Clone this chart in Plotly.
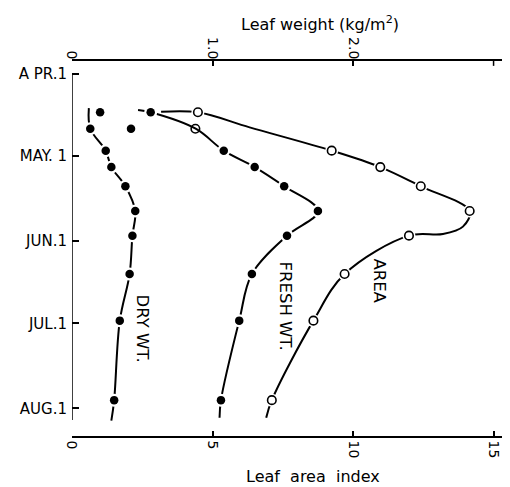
import plotly.graph_objects as go

# ---- data ----
sample_dates = ["2001-04-15", "2001-04-21", "2001-04-29", "2001-05-05", "2001-05-12",
                "2001-05-21", "2001-05-30", "2001-06-13", "2001-06-30", "2001-07-29"]
dry_wt = [0.20, 0.13, 0.24, 0.28, 0.38, 0.45, 0.43, 0.41, 0.34, 0.30]          # kg/m2
fresh_wt = [0.56, 0.42, 1.08, 1.30, 1.51, 1.75, 1.53, 1.28, 1.19, 1.06]        # kg/m2
leaf_area = [4.48, 4.39, 9.24, 10.97, 12.41, 14.15, 11.99, 9.70, 8.59, 7.11]   # LAI

# hand-drawn smooth curves
dry_curve_dates = ["2001-04-13 12:00", "2001-04-21", "2001-04-29", "2001-05-05", "2001-05-12",
                   "2001-05-21", "2001-05-30", "2001-06-13", "2001-06-30", "2001-07-29",
                   "2001-08-05 12:00"]
dry_curve = [0.12, 0.13, 0.24, 0.28, 0.38, 0.45, 0.43, 0.41, 0.34, 0.30, 0.28]

fresh_curve_dates = ["2001-04-14 03:00", "2001-04-15", "2001-04-21", "2001-04-29", "2001-05-05",
                     "2001-05-12", "2001-05-21", "2001-05-30", "2001-06-13", "2001-06-30",
                     "2001-07-29", "2001-08-04 10:00"]
fresh_curve = [0.47, 0.56, 0.88, 1.08, 1.30, 1.51, 1.75, 1.53, 1.28, 1.19, 1.06, 1.05]

area_curve_dates = ["2001-04-14 20:00", "2001-04-15", "2001-04-20 12:00", "2001-04-29",
                    "2001-05-05", "2001-05-12", "2001-05-21", "2001-05-26 17:00",
                    "2001-05-29 10:00", "2001-05-30", "2001-06-13", "2001-06-30",
                    "2001-07-29", "2001-08-04 10:00"]
area_curve = [3.17, 4.48, 6.32, 9.24, 10.97, 12.41, 14.15, 13.91, 13.20, 11.99, 9.70,
              8.59, 7.11, 6.91]

month_ticks = ["2001-04-01", "2001-05-01", "2001-06-01", "2001-07-01", "2001-08-01"]
month_labels = ["A PR.1", "MAY. 1", "JUN.1", "JUL.1", "AUG.1"]
lai_ticks = [0, 5, 10, 15]
weight_ticks = [0, 1, 2]
weight_labels = ["0", "1.0", "2.0"]

FONT = "DejaVu Sans"
fig = go.Figure()

line_style = dict(color="black", width=2, shape="spline", smoothing=1.0)

# curves
fig.add_trace(go.Scatter(x=dry_curve, y=dry_curve_dates, mode="lines", line=line_style,
                         xaxis="x2", yaxis="y", showlegend=False, hoverinfo="skip"))
fig.add_trace(go.Scatter(x=fresh_curve, y=fresh_curve_dates, mode="lines", line=line_style,
                         xaxis="x2", yaxis="y", showlegend=False, hoverinfo="skip"))
fig.add_trace(go.Scatter(x=area_curve, y=area_curve_dates, mode="lines", line=line_style,
                         xaxis="x", yaxis="y", showlegend=False, hoverinfo="skip"))

# white halos (gaps in the line around markers)
halo = dict(size=13, color="white", line=dict(width=0))
fig.add_trace(go.Scatter(x=dry_wt, y=sample_dates, mode="markers", marker=halo,
                         xaxis="x2", yaxis="y", showlegend=False, hoverinfo="skip"))
fig.add_trace(go.Scatter(x=fresh_wt, y=sample_dates, mode="markers", marker=halo,
                         xaxis="x2", yaxis="y", showlegend=False, hoverinfo="skip"))
fig.add_trace(go.Scatter(x=leaf_area, y=sample_dates, mode="markers", marker=halo,
                         xaxis="x", yaxis="y", showlegend=False, hoverinfo="skip"))

# markers
fig.add_trace(go.Scatter(x=dry_wt, y=sample_dates, mode="markers", name="Dry wt.",
                         marker=dict(size=8.5, color="black", line=dict(width=0)),
                         xaxis="x2", yaxis="y", showlegend=False))
fig.add_trace(go.Scatter(x=fresh_wt, y=sample_dates, mode="markers", name="Fresh wt.",
                         marker=dict(size=8.5, color="black", line=dict(width=0)),
                         xaxis="x2", yaxis="y", showlegend=False))
fig.add_trace(go.Scatter(x=leaf_area, y=sample_dates, mode="markers", name="Area",
                         marker=dict(size=8.5, color="white", line=dict(width=1.6, color="black")),
                         xaxis="x", yaxis="y", showlegend=False))

# left axis line (starts at APR.1)
fig.add_shape(type="line", xref="x", yref="y", x0=0, x1=0,
              y0="2001-04-01", y1="2001-08-05 07:00",
              line=dict(color="black", width=1.5))
# end tick of the top axis (3.0)
fig.add_shape(type="line", xref="x2", yref="paper", x0=3, x1=3, y0=1, y1=0.987,
              line=dict(color="black", width=1.5))

label_font = dict(family=FONT, size=16.5, color="black")
fig.add_annotation(x=2.51, y="2001-07-02 17:00", xref="x", yref="y", text="DRY WT.",
                   textangle=90, showarrow=False, font=label_font)
fig.add_annotation(x=7.6, y="2001-06-24 17:00", xref="x", yref="y", text="FRESH WT.",
                   textangle=90, showarrow=False, font=label_font)
fig.add_annotation(x=10.94, y="2001-06-15 12:00", xref="x", yref="y", text="AREA",
                   textangle=90, showarrow=False, font=label_font)

# axis titles
fig.add_annotation(x=0.576, y=1.101, xref="paper", yref="paper", yanchor="middle",
                   xanchor="center", text="Leaf weight (kg/m<sup>2</sup>)", showarrow=False,
                   font=dict(family=FONT, size=16, color="black"))
fig.add_annotation(x=0.56, y=-0.109, xref="paper", yref="paper", yanchor="middle",
                   xanchor="center", text="Leaf  area  index", showarrow=False,
                   font=dict(family=FONT, size=16, color="black"))

tick_font = dict(family=FONT, size=14, color="black")
fig.update_layout(
    width=510, height=487,
    margin=dict(l=72, r=8, t=61, b=51),
    paper_bgcolor="white", plot_bgcolor="white",
    xaxis=dict(range=[0, 15.3], tickvals=lai_ticks, tickangle=90, ticks="inside",
               ticklen=5, tickwidth=1.5, tickcolor="black", showline=True,
               linecolor="black", linewidth=1.5, showgrid=False, zeroline=False,
               tickfont=tick_font, anchor="y", side="bottom"),
    xaxis2=dict(range=[0, 3.06], tickvals=weight_ticks, ticktext=weight_labels,
                tickangle=90, ticks="inside", ticklen=5, tickwidth=1.5, tickcolor="black",
                showline=True, linecolor="black", linewidth=1.5, showgrid=False,
                zeroline=False, tickfont=tick_font, overlaying="x", side="top",
                anchor="y", ticklabelstandoff=-5),
    yaxis=dict(type="date", range=["2001-08-11 02:00", "2001-03-27 07:00"],
               tickvals=month_ticks, ticktext=month_labels, ticks="inside", ticklen=7,
               tickwidth=1.5, tickcolor="black", showline=False, showgrid=False,
               zeroline=False, tickfont=dict(family=FONT, size=15, color="black"),
               ticklabelstandoff=4),
)

fig.write_html("out.html")
